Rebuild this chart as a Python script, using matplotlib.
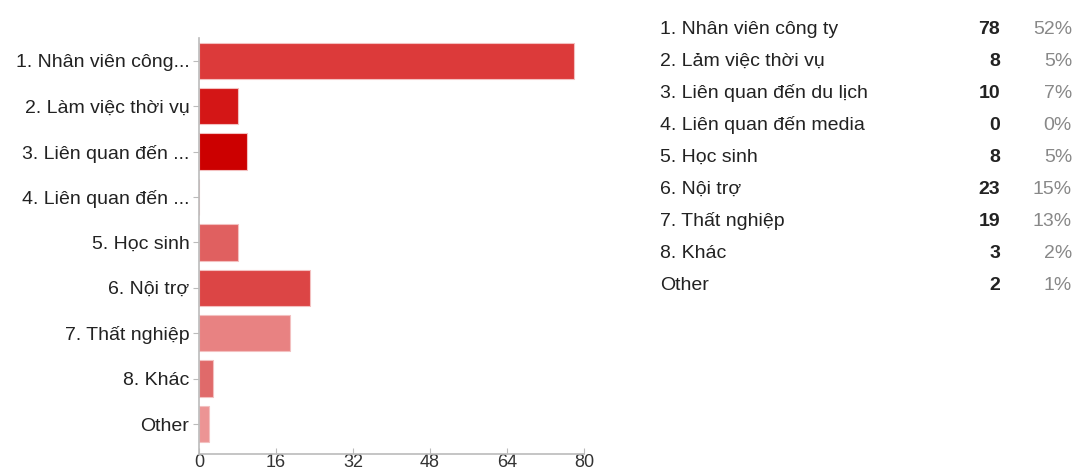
import matplotlib.pyplot as plt

plt.rcParams['font.family'] = ['Liberation Sans', 'DejaVu Sans']

# Nghề nghiệp của người trả lời
short_labels = ['1. Nhân viên công...', '2. Làm việc thời vụ', '3. Liên quan đến ...',
                '4. Liên quan đến ...', '5. Học sinh', '6. Nội trợ', '7. Thất nghiệp',
                '8. Khác', 'Other']
full_labels = ['1. Nhân viên công ty', '2. Lảm việc thời vụ', '3. Liên quan đến du lịch',
               '4. Liên quan đến media', '5. Học sinh', '6. Nội trợ', '7. Thất nghiệp',
               '8. Khác', 'Other']
counts = [78, 8, 10, 0, 8, 23, 19, 3, 2]
percents = ['52%', '5%', '7%', '0%', '5%', '15%', '13%', '2%', '1%']
bar_colors = ['#dc3a3a', '#d41616', '#cc0000', '#dc3a3a', '#e06060',
              '#dc4545', '#e88282', '#e06a6a', '#ec9494']
x_ticks = [0, 16, 32, 48, 64, 80]

fig = plt.figure(figsize=(10.75, 4.69), dpi=100)
ax = fig.add_axes([199 / 1075, 1 - 454 / 469, 385 / 1075, 416 / 469])

ax.barh(range(len(counts)), counts, height=0.8, color=bar_colors,
        edgecolor='#f3c0c0', linewidth=0.8)
ax.set_xlim(0, 80)
ax.set_ylim(8.66, -0.5)
ax.set_xticks(x_ticks)
ax.set_yticks(range(len(counts)))
ax.set_yticklabels(short_labels)

for side in ['top', 'right']:
    ax.spines[side].set_visible(False)
for side in ['left', 'bottom']:
    ax.spines[side].set_color('#bbbbbb')
    ax.spines[side].set_linewidth(1.2)
ax.tick_params(axis='y', length=4, color='#bbbbbb', labelsize=14,
               labelcolor='#222222', pad=3)
ax.tick_params(axis='x', length=4, color='#bbbbbb', labelsize=13,
               labelcolor='#333333', pad=0, direction='in')

# Bảng tóm tắt bên phải
row_y0 = 29
row_step = 32
for i, (lab, n, pct) in enumerate(zip(full_labels, counts, percents)):
    y = 1 - (row_y0 + i * row_step) / 469
    fig.text(660 / 1075, y, lab, fontsize=14, color='#222222', va='center')
    fig.text(1000 / 1075, y, str(n), fontsize=14, color='#222222',
             fontweight='bold', va='center', ha='right')
    fig.text(1072 / 1075, y, pct, fontsize=14, color='#888888',
             va='center', ha='right')

plt.savefig('out.png', dpi=100)
